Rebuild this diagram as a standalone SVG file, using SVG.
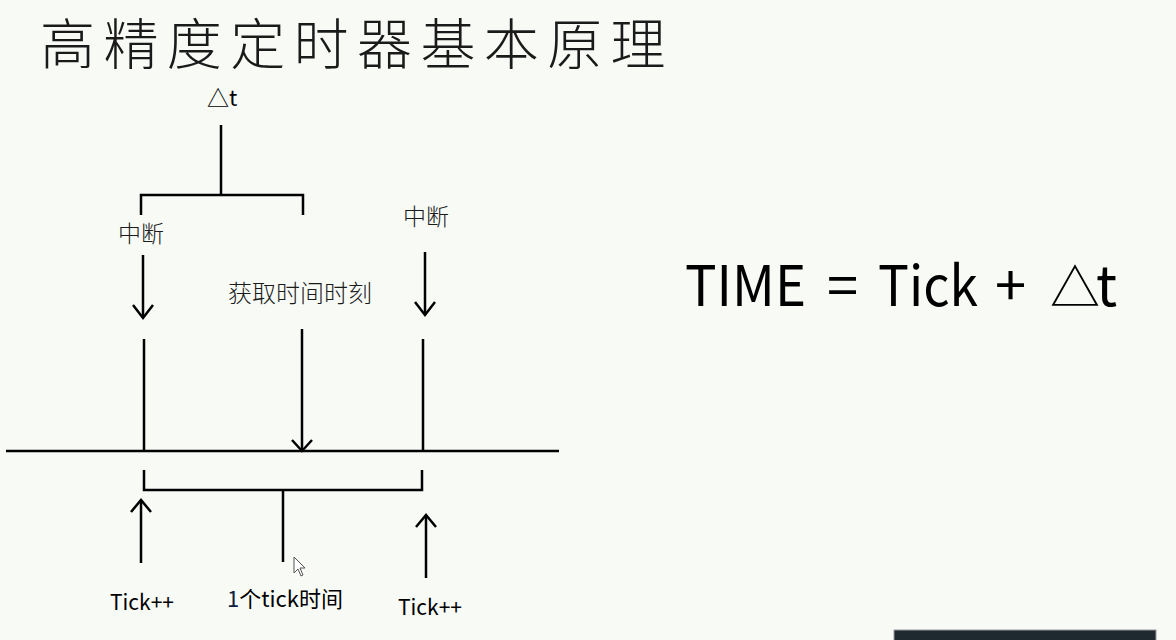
<svg xmlns="http://www.w3.org/2000/svg" width="1176" height="640" viewBox="0 0 1176 640">
<style>
.ln{stroke:#000;stroke-width:2.5;fill:none;stroke-linecap:butt}
.ah{stroke:#000;stroke-width:2.5;fill:none;stroke-linejoin:miter}
.cjk{font-family:"Noto Sans CJK SC","Noto Sans",sans-serif;fill:#1a1a1a}
.lat{font-family:"Noto Sans CJK SC","Open Sans",sans-serif;fill:#000}
.fm{font-family:"Noto Sans CJK SC","Open Sans",sans-serif;fill:#000;font-size:56px}
</style>
<rect width="1176" height="640" fill="#f8faf6"/>
<g id="title"><text class="cjk" x="40" y="64" font-size="55" font-weight="300" letter-spacing="8.4">高精度定时器基本原理</text></g>
<g id="delta-label"><text class="lat" x="207" y="106" font-size="22">△t</text></g>
<g id="int-left"><text class="cjk" x="118" y="242" font-size="23" font-weight="300">中断</text></g>
<g id="int-right"><text class="cjk" x="403" y="225" font-size="23" font-weight="300">中断</text></g>
<g id="get-time"><text class="cjk" x="228" y="302" font-size="24" font-weight="300">获取时间时刻</text></g>
<g id="formula">
<text class="fm" x="685" y="306" textLength="121" lengthAdjust="spacingAndGlyphs">TIME</text>
<text class="fm" x="827" y="306">=</text>
<text class="fm" x="878" y="306" textLength="100" lengthAdjust="spacingAndGlyphs">Tick</text>
<text class="fm" x="995" y="306">+</text>
<text class="fm" x="1050" y="306" letter-spacing="-4"><tspan font-size="50">△</tspan>t</text>
</g>
<g id="tick-left"><text class="lat" x="110" y="610" font-size="21">Tick++</text></g>
<g id="tick-right"><text class="lat" x="398" y="615" font-size="21">Tick++</text></g>
<g id="one-tick"><text class="lat" x="227" y="607" font-size="22"><tspan fill="#102040">1</tspan>个tick时间</text></g>
<g id="connectors">
<path class="ln" d="M221 125V195M141 215V195H303V215"/>
<path class="ln" d="M143 255V318"/><path class="ah" d="M133 305L143 318L153 305"/>
<path class="ln" d="M425 252V315"/><path class="ah" d="M415 302L425 315L435 302"/>
<path class="ln" d="M6 451H559"/>
<path class="ln" d="M144 339V451M423 339V451"/>
<path class="ln" d="M302 329V451"/><path class="ah" d="M292 440L302 451L312 440"/>
<path class="ln" d="M144 470V490H422V470M283 490V562"/>
<path class="ln" d="M141 563V500"/><path class="ah" d="M131 512L141 500L151 512"/>
<path class="ln" d="M426 578V515"/><path class="ah" d="M416 527L426 515L436 527"/>
</g>
<path d="M294 557L294 573L298 569L301 576L303 575L300 568L305 568Z" fill="#fff" stroke="#555" stroke-width="1"/>
<rect x="894" y="630" width="262" height="12" fill="#1f2a30" stroke="#999" stroke-width="1"/>
</svg>
